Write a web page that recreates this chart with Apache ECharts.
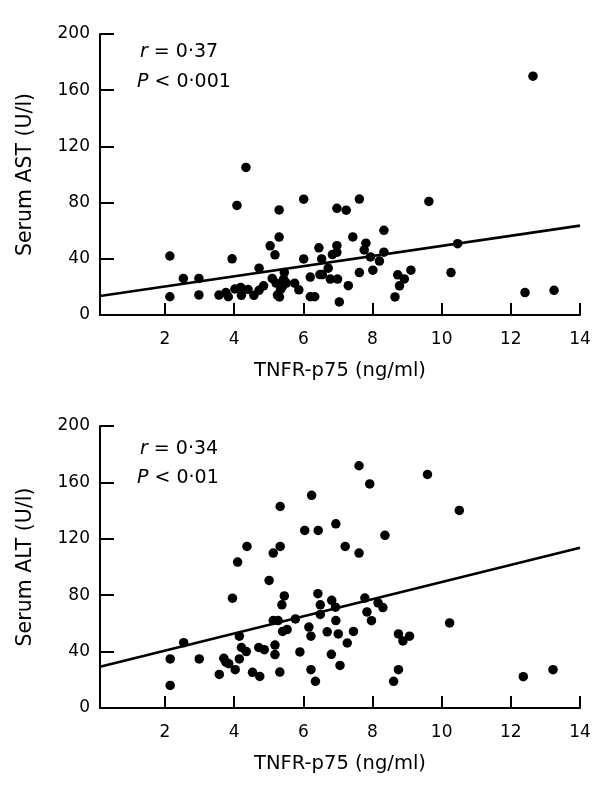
<!DOCTYPE html>
<html><head><meta charset="utf-8">
<script src="https://cdn.jsdelivr.net/npm/echarts@6/dist/echarts.min.js"></script>
<style>html,body{margin:0;padding:0;background:#fff}#c{width:603px;height:791px}</style>
</head><body><div id="c"></div>
<script>
// ---- data ----
const xTicks = [2, 4, 6, 8, 10, 12, 14];
const xMin = 0.12, xMax = 14;
const yMin = 0, yMax = 200, yStep = 40;

const astPoints = [
  [2.14,42],[2.14,13],[2.53,26],[2.98,26],[2.98,14.3],[3.56,14.2],[3.76,16],[3.83,13],
  [3.94,40],[4.02,18.5],[4.08,78],[4.19,19.6],[4.21,14],[4.34,105],[4.40,18.2],[4.57,14],
  [4.72,33.3],[4.72,17.6],[4.85,20.8],[5.04,49.2],[5.10,26],[5.18,42.8],[5.21,22.7],[5.25,14.2],
  [5.30,74.8],[5.30,55.5],[5.31,12.8],[5.34,18],[5.40,20.4],[5.43,25.6],[5.45,30.3],[5.51,22.7],
  [5.75,22.6],[5.87,17.9],[6.01,82.4],[6.01,39.9],[6.20,27],[6.20,13],[6.33,13],[6.45,47.8],
  [6.48,28.8],[6.53,39.9],[6.55,28.8],[6.72,33.3],[6.78,25.6],[6.84,43],[6.97,75.9],[6.97,49.3],
  [6.97,44.6],[6.99,25.6],[7.04,9.3],[7.24,74.6],[7.30,20.9],[7.43,55.6],[7.62,82.5],[7.62,30.2],
  [7.76,46.3],[7.81,51.1],[7.94,41.3],[8.01,31.9],[8.20,38.4],[8.33,60.3],[8.33,44.7],[8.65,12.9],
  [8.73,28.6],[8.78,20.8],[8.92,25.7],[9.11,31.9],[9.63,80.8],[10.27,30.2],[10.46,50.8],[12.41,16],
  [12.64,170],[13.25,17.6]
];
const altPoints = [
  [2.15,34.8],[2.15,16],[2.54,46.3],[2.99,34.8],[3.57,23.8],[3.70,35.2],[3.76,32.6],[3.84,31.4],
  [3.95,77.9],[4.03,27.2],[4.10,103.5],[4.15,34.8],[4.15,50.9],[4.21,42.9],[4.35,40],[4.37,114.6],
  [4.53,25.3],[4.71,42.9],[4.74,22.4],[4.87,41.4],[5.01,90.5],[5.13,109.9],[5.13,62],[5.18,44.6],
  [5.18,37.9],[5.27,62],[5.33,142.9],[5.33,114.6],[5.32,25.5],[5.38,73.2],[5.40,54.3],[5.45,79.5],
  [5.53,55.6],[5.77,63.2],[5.90,39.8],[6.04,125.9],[6.16,57.4],[6.22,50.9],[6.22,27.2],[6.24,150.8],
  [6.35,18.9],[6.42,81.1],[6.43,125.9],[6.49,73.2],[6.49,66.4],[6.69,54],[6.81,38.1],[6.82,76.4],
  [6.93,71.5],[6.94,62],[6.94,130.6],[7.01,52.5],[7.06,30.2],[7.21,114.6],[7.27,46.1],[7.45,54.3],
  [7.61,171.8],[7.61,109.9],[7.78,78],[7.84,68.1],[7.92,158.9],[7.97,61.9],[8.16,74.6],[8.30,71.2],
  [8.36,122.5],[8.61,18.9],[8.75,52.5],[8.75,27.2],[8.88,47.6],[9.07,50.9],[9.59,165.6],[10.23,60.3],
  [10.51,140.1],[12.36,22.2],[13.22,27.2]
];
const astFit = [[0.12, 13.5], [14, 63.6]];
const altFit = [[0.12, 29.2], [14, 113.6]];

const astLabel = ['r', ' = 0·37'];
const astP = ['P', ' < 0·001'];
const altLabel = ['r', ' = 0·34'];
const altP = ['P', ' < 0·01'];
const xName = 'TNFR-p75 (ng/ml)';
const yNames = ['Serum AST (U/l)', 'Serum ALT (U/l)'];

// ---- chart ----
const FONT = 'DejaVu Sans';

function xa(i) {
  return {
    gridIndex: i, type: 'value', min: xMin, max: xMax,
    axisLine: { show: true, onZero: false, lineStyle: { color: '#000', width: 2 } },
    axisTick: { show: true, inside: true, length: 12, customValues: xTicks, lineStyle: { color: '#000', width: 2 } },
    axisLabel: { customValues: xTicks, color: '#000', fontFamily: FONT, fontSize: 17, margin: 16 },
    splitLine: { show: false },
    name: xName, nameLocation: 'middle', nameGap: 46,
    nameTextStyle: { color: '#000', fontFamily: FONT, fontSize: 19.5 }
  };
}
function ya(i) {
  return {
    gridIndex: i, type: 'value', min: yMin, max: yMax, interval: yStep,
    axisLine: { show: true, onZero: false, lineStyle: { color: '#000', width: 2 } },
    axisTick: { show: true, inside: true, length: 14, lineStyle: { color: '#000', width: 2 } },
    axisLabel: { color: '#000', fontFamily: FONT, fontSize: 17, margin: 10 },
    splitLine: { show: false },
    name: yNames[i], nameLocation: 'middle', nameGap: 64,
    nameTextStyle: { color: '#000', fontFamily: FONT, fontSize: 20.5 }
  };
}
function annot(parts, x, y) {
  return {
    type: 'text', x: x, y: y,
    style: {
      text: '{i|' + parts[0] + '}' + parts[1],
      fontFamily: FONT, fontSize: 19, fill: '#000', verticalAlign: 'middle', align: 'left',
      rich: { i: { fontStyle: 'italic', fontFamily: FONT, fontSize: 19, fill: '#000' } }
    }
  };
}

const chart = echarts.init(document.getElementById('c'));
chart.setOption({
  animation: false,
  grid: [
    { left: 100, top: 34, width: 480, height: 281 },
    { left: 100, top: 426, width: 480, height: 282 }
  ],
  xAxis: [xa(0), xa(1)],
  yAxis: [ya(0), ya(1)],
  series: [
    { type: 'scatter', xAxisIndex: 0, yAxisIndex: 0, data: astPoints, symbolSize: 9.5, itemStyle: { color: '#000', opacity: 1 } },
    { type: 'line', xAxisIndex: 0, yAxisIndex: 0, data: astFit, showSymbol: false, lineStyle: { color: '#000', width: 2.6 } },
    { type: 'scatter', xAxisIndex: 1, yAxisIndex: 1, data: altPoints, symbolSize: 9.5, itemStyle: { color: '#000', opacity: 1 } },
    { type: 'line', xAxisIndex: 1, yAxisIndex: 1, data: altFit, showSymbol: false, lineStyle: { color: '#000', width: 2.6 } }
  ],
  graphic: [
    annot(astLabel, 140, 52),
    annot(astP, 137, 82),
    annot(altLabel, 140, 449.5),
    annot(altP, 137, 478.5)
  ]
});
</script>
</body></html>
